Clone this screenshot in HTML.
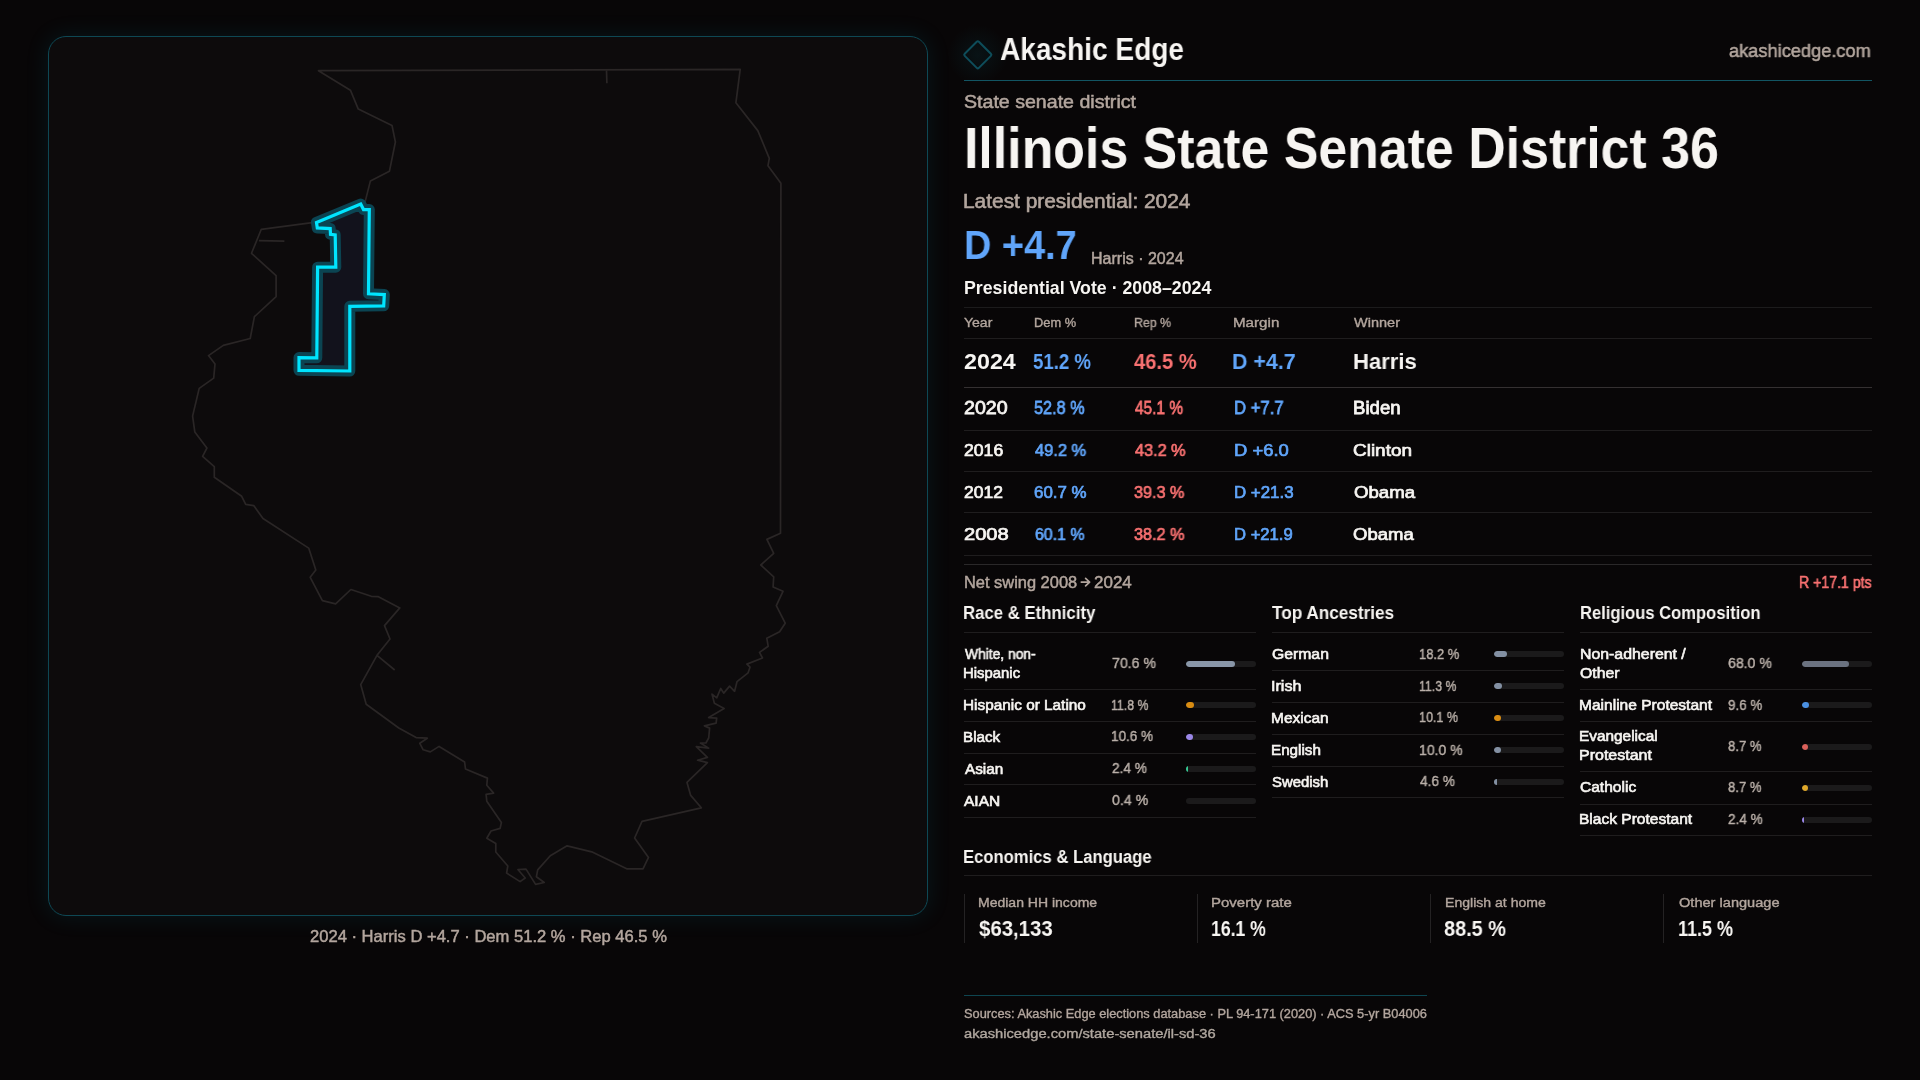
<!DOCTYPE html><html><head><meta charset="utf-8"><style>
html,body{margin:0;padding:0;}
body{width:1920px;height:1080px;overflow:hidden;position:relative;background:#080607;font-family:"Liberation Sans",sans-serif;}
.t{position:absolute;white-space:nowrap;transform-origin:0 0;will-change:transform;}
.a{position:absolute;}
</style></head><body>
<div class="a" style="left:48px;top:36px;width:880px;height:880px;box-sizing:border-box;border:1px solid #0e4854;border-radius:18px;background:#0d0b0c;box-shadow:0 0 22px 2px rgba(20,160,190,0.10);"></div>
<svg class="a" style="left:0;top:0" width="1920" height="1080" viewBox="0 0 1920 1080">
<path d="M318.5,70.7 L740.2,69.4 L735.9,102.8 L757.8,130.6 L769.3,158.3 L768.0,165.7 L780.9,183.3 L780.5,533.3 L766.9,539.4 L773.7,553.3 L760.8,565.0 L773.7,576.8 L773.1,587.0 L783.0,591.3 L776.3,605.6 L785.2,623.2 L779.6,631.7 L766.8,638.2 L768.2,646.3 L759.5,652.4 L762.5,658.0 L746.9,664.1 L750.0,667.2 L748.1,672.8 L737.0,681.7 L734.6,691.3 L729.6,686.1 L723.7,693.1 L720.7,688.5 L716.7,697.8 L712.0,694.1 L714.4,703.3 L724.1,708.5 L708.7,717.6 L716.7,718.1 L716.1,723.1 L704.4,725.9 L709.6,728.1 L708.7,738.0 L705.9,743.0 L700.4,743.0 L708.7,748.1 L696.3,746.7 L707.4,757.4 L697.6,760.2 L707.4,762.6 L687.0,782.4 L690.7,795.4 L701.3,807.8 L642.0,821.3 L634.6,838.0 L648.5,857.4 L643.0,868.9 L627.2,868.9 L591.7,851.8 L567.1,845.8 L550.3,855.7 L537.7,869.9 L536.4,876.7 L544.2,882.5 L535.6,884.4 L526.0,869.1 L517.9,869.5 L525.2,878.0 L520.1,881.6 L506.6,873.0 L507.8,866.0 L495.8,852.0 L495.8,843.6 L486.8,838.2 L491.0,831.0 L500.1,828.4 L501.4,822.5 L486.8,801.2 L486.1,794.3 L493.6,793.1 L486.8,785.3 L487.4,778.1 L465.5,769.0 L464.6,762.0 L439.1,746.4 L430.3,751.9 L423.2,749.8 L419.8,743.3 L427.3,738.2 L416.1,737.6 L398.8,728.0 L366.2,704.2 L360.7,684.6 L377.0,655.3 L390.0,639.0 L384.5,625.6 L399.8,607.9 L378.4,596.7 L371.3,596.3 L350.9,589.5 L335.6,603.8 L322.4,600.7 L310.2,577.3 L315.8,570.0 L308.7,548.1 L263.0,518.5 L253.7,505.6 L245.7,504.4 L241.7,496.3 L214.3,477.2 L214.3,466.7 L202.6,456.3 L206.9,448.1 L194.8,431.9 L192.6,416.1 L199.2,388.4 L213.7,378.1 L215.0,363.9 L208.5,355.6 L223.3,345.4 L250.2,338.5 L254.4,316.7 L276.1,296.7 L276.1,275.6 L251.5,253.3 L261.3,229.3 L312.2,222.6 L364.8,203.1 L370.4,180.9 L389.4,171.3 L395.4,142.0 L392.0,125.4 L358.3,109.1 L350.4,90.2 Z" fill="none" stroke="#2a2626" stroke-width="1.7" stroke-linejoin="round"/>
<path d="M606.5,70.4 L606.9,83.3 M258.9,240.7 L284.4,241.1 M377,655.3 L394.7,670" fill="none" stroke="#2a2626" stroke-width="1.7"/>
<path d="M360.7,204.1 L363.5,209.6 L369.3,209.6 L368.5,293.8 L384.3,294.6 L383.7,305.8 L349.8,306.3 L349.8,371.0 L299.0,370.3 L299.0,357.6 L316.8,357.8 L317.6,267.2 L335.8,267.2 L335.2,235.0 L330.5,234.3 L330.2,228.6 L317.3,227.9 L316.5,222.4 Z" fill="#12121c" stroke="#0b4452" stroke-width="11" stroke-linejoin="round"/>
<path d="M360.7,204.1 L363.5,209.6 L369.3,209.6 L368.5,293.8 L384.3,294.6 L383.7,305.8 L349.8,306.3 L349.8,371.0 L299.0,370.3 L299.0,357.6 L316.8,357.8 L317.6,267.2 L335.8,267.2 L335.2,235.0 L330.5,234.3 L330.2,228.6 L317.3,227.9 L316.5,222.4 Z" fill="none" stroke="#00e5ff" stroke-width="3.2" stroke-linejoin="miter"/>
<path d="M1081.3,582.1 L1089.4,582.1 M1085.6,578.3 L1089.6,582.1 L1085.6,585.9" fill="none" stroke="#b3a69e" stroke-width="1.7" stroke-linecap="round" stroke-linejoin="round"/>
<defs><radialGradient id="dg"><stop offset="0" stop-color="#0e6a7a" stop-opacity="0.13"/><stop offset="1" stop-color="#0e6a7a" stop-opacity="0"/></radialGradient></defs>
<circle cx="977.8" cy="54.8" r="30" fill="url(#dg)"/>
<rect x="967.8" y="44.8" width="20" height="20" rx="1.5" transform="rotate(45 977.8 54.8)" fill="none" stroke="#0e4d5a" stroke-width="2"/>
</svg>
<div class="a" style="left:964px;top:80px;width:908px;height:1px;background:#125563;"></div>
<div class="a" style="left:964px;top:306.5px;width:908px;height:1px;background:#1c1b1c;"></div>
<div class="a" style="left:964px;top:337.5px;width:908px;height:1px;background:#1f1d1e;"></div>
<div class="a" style="left:964px;top:386.5px;width:908px;height:1px;background:#343031;"></div>
<div class="a" style="left:964px;top:429.5px;width:908px;height:1px;background:#1f1d1e;"></div>
<div class="a" style="left:964px;top:471.0px;width:908px;height:1px;background:#1f1d1e;"></div>
<div class="a" style="left:964px;top:512.0px;width:908px;height:1px;background:#1f1d1e;"></div>
<div class="a" style="left:964px;top:555.0px;width:908px;height:1px;background:#1f1d1e;"></div>
<div class="a" style="left:964px;top:564.2px;width:908px;height:1px;background:#2a2829;"></div>
<div class="a" style="left:964.0px;top:632.3px;width:292.0px;height:1px;background:#1f1d1e;"></div>
<div class="a" style="left:964.0px;top:688.9px;width:292.0px;height:1px;background:#1f1d1e;"></div>
<div class="a" style="left:964.0px;top:720.8px;width:292.0px;height:1px;background:#1f1d1e;"></div>
<div class="a" style="left:964.0px;top:752.7px;width:292.0px;height:1px;background:#1f1d1e;"></div>
<div class="a" style="left:964.0px;top:784.4px;width:292.0px;height:1px;background:#1f1d1e;"></div>
<div class="a" style="left:964.0px;top:817.0px;width:292.0px;height:1px;background:#1f1d1e;"></div>
<div class="a" style="left:1271.8px;top:631.6px;width:292.0px;height:1px;background:#1f1d1e;"></div>
<div class="a" style="left:1271.8px;top:669.9px;width:292.0px;height:1px;background:#1f1d1e;"></div>
<div class="a" style="left:1271.8px;top:701.6px;width:292.0px;height:1px;background:#1f1d1e;"></div>
<div class="a" style="left:1271.8px;top:733.7px;width:292.0px;height:1px;background:#1f1d1e;"></div>
<div class="a" style="left:1271.8px;top:765.8px;width:292.0px;height:1px;background:#1f1d1e;"></div>
<div class="a" style="left:1271.8px;top:797.4px;width:292.0px;height:1px;background:#1f1d1e;"></div>
<div class="a" style="left:1579.9px;top:631.7px;width:292.0px;height:1px;background:#1f1d1e;"></div>
<div class="a" style="left:1579.9px;top:688.8px;width:292.0px;height:1px;background:#1f1d1e;"></div>
<div class="a" style="left:1579.9px;top:720.8px;width:292.0px;height:1px;background:#1f1d1e;"></div>
<div class="a" style="left:1579.9px;top:771.1px;width:292.0px;height:1px;background:#1f1d1e;"></div>
<div class="a" style="left:1579.9px;top:803.5px;width:292.0px;height:1px;background:#1f1d1e;"></div>
<div class="a" style="left:1579.9px;top:834.6px;width:292.0px;height:1px;background:#1f1d1e;"></div>
<div class="a" style="left:964.0px;top:874.8px;width:908.0px;height:1px;background:#1f1d1e;"></div>
<div class="a" style="left:964.0px;top:894.3px;width:1px;height:48.5px;background:#242223;"></div>
<div class="a" style="left:1197.0px;top:894.3px;width:1px;height:48.5px;background:#242223;"></div>
<div class="a" style="left:1430.0px;top:894.3px;width:1px;height:48.5px;background:#242223;"></div>
<div class="a" style="left:1663.0px;top:894.3px;width:1px;height:48.5px;background:#242223;"></div>
<div class="a" style="left:1186.0px;top:661.1px;width:70.0px;height:6px;border-radius:3px;background:#1b1a1b;overflow:hidden;"><div style="width:49.42px;height:6px;border-radius:3px;background:#8996a8;"></div></div>
<div class="a" style="left:1186.0px;top:702.3px;width:70.0px;height:6px;border-radius:3px;background:#1b1a1b;overflow:hidden;"><div style="width:8.26px;height:6px;border-radius:3px;background:#d98c12;"></div></div>
<div class="a" style="left:1186.0px;top:734.2px;width:70.0px;height:6px;border-radius:3px;background:#1b1a1b;overflow:hidden;"><div style="width:7.42px;height:6px;border-radius:3px;background:#9b87e8;"></div></div>
<div class="a" style="left:1186.0px;top:766.0px;width:70.0px;height:6px;border-radius:3px;background:#1b1a1b;overflow:hidden;"><div style="width:1.68px;height:6px;border-radius:0;background:#36c993;"></div></div>
<div class="a" style="left:1186.0px;top:798.2px;width:70.0px;height:6px;border-radius:3px;background:#1b1a1b;overflow:hidden;"><div style="width:0.28px;height:6px;border-radius:0;background:transparent;"></div></div>
<div class="a" style="left:1493.8px;top:651.2px;width:70.0px;height:6px;border-radius:3px;background:#1b1a1b;overflow:hidden;"><div style="width:12.74px;height:6px;border-radius:3px;background:#8390a3;"></div></div>
<div class="a" style="left:1493.8px;top:683.2px;width:70.0px;height:6px;border-radius:3px;background:#1b1a1b;overflow:hidden;"><div style="width:7.91px;height:6px;border-radius:3px;background:#8390a3;"></div></div>
<div class="a" style="left:1493.8px;top:715.2px;width:70.0px;height:6px;border-radius:3px;background:#1b1a1b;overflow:hidden;"><div style="width:7.07px;height:6px;border-radius:3px;background:#d98c12;"></div></div>
<div class="a" style="left:1493.8px;top:747.2px;width:70.0px;height:6px;border-radius:3px;background:#1b1a1b;overflow:hidden;"><div style="width:7.00px;height:6px;border-radius:3px;background:#8390a3;"></div></div>
<div class="a" style="left:1493.8px;top:779.1px;width:70.0px;height:6px;border-radius:3px;background:#1b1a1b;overflow:hidden;"><div style="width:3.22px;height:6px;border-radius:0;background:#8390a3;"></div></div>
<div class="a" style="left:1801.9px;top:660.8px;width:70.0px;height:6px;border-radius:3px;background:#1b1a1b;overflow:hidden;"><div style="width:47.60px;height:6px;border-radius:3px;background:#6b7280;"></div></div>
<div class="a" style="left:1801.9px;top:702.3px;width:70.0px;height:6px;border-radius:3px;background:#1b1a1b;overflow:hidden;"><div style="width:6.72px;height:6px;border-radius:3px;background:#4a90e2;"></div></div>
<div class="a" style="left:1801.9px;top:743.5px;width:70.0px;height:6px;border-radius:3px;background:#1b1a1b;overflow:hidden;"><div style="width:6.09px;height:6px;border-radius:3px;background:#d9605a;"></div></div>
<div class="a" style="left:1801.9px;top:784.8px;width:70.0px;height:6px;border-radius:3px;background:#1b1a1b;overflow:hidden;"><div style="width:6.09px;height:6px;border-radius:3px;background:#e0a82a;"></div></div>
<div class="a" style="left:1801.9px;top:816.5px;width:70.0px;height:6px;border-radius:3px;background:#1b1a1b;overflow:hidden;"><div style="width:1.68px;height:6px;border-radius:0;background:#9b87e8;"></div></div>
<div class="a" style="left:964px;top:995px;width:463px;height:1.2px;background:#0e4550;"></div>
<div class="t" id="t0" style="left:999.56px;top:33.65px;font-size:31.250px;line-height:31.250px;font-weight:700;color:#f7f5f2;transform:scaleX(0.8978);">Akashic Edge</div>
<div class="t" id="t1" style="left:1728.71px;top:41.59px;font-size:18.824px;line-height:18.824px;font-weight:400;color:#b3a69e;-webkit-text-stroke:0.55px #b3a69e;transform:scaleX(0.9684);">akashicedge.com</div>
<div class="t" id="t2" style="left:963.71px;top:94.45px;font-size:17.708px;line-height:17.708px;font-weight:400;color:#b3a69e;-webkit-text-stroke:0.52px #b3a69e;transform:scaleX(1.1071);">State senate district</div>
<div class="t" id="t3" style="left:964.22px;top:118.81px;font-size:57.994px;line-height:57.994px;font-weight:700;color:#f7f5f2;transform:scaleX(0.8941);">Illinois State Senate District 36</div>
<div class="t" id="t4" style="left:962.85px;top:192.15px;font-size:19.800px;line-height:19.800px;font-weight:400;color:#b3a69e;-webkit-text-stroke:0.58px #b3a69e;transform:scaleX(1.0552);">Latest presidential: 2024</div>
<div class="t" id="t5" style="left:963.88px;top:224.87px;font-size:40.552px;line-height:40.552px;font-weight:700;color:#60a5fa;transform:scaleX(0.9348);">D +4.7</div>
<div class="t" id="t6" style="left:1090.58px;top:251.25px;font-size:15.617px;line-height:15.617px;font-weight:400;color:#b3a69e;-webkit-text-stroke:0.46px #b3a69e;transform:scaleX(1.0258);">Harris · 2024</div>
<div class="t" id="t7" style="left:963.68px;top:280.19px;font-size:17.733px;line-height:17.733px;font-weight:700;color:#f7f5f2;transform:scaleX(1.0019);">Presidential Vote · 2008–2024</div>
<div class="t" id="t8" style="left:963.98px;top:316.65px;font-size:12.828px;line-height:12.828px;font-weight:400;color:#b3a69e;-webkit-text-stroke:0.37px #b3a69e;transform:scaleX(1.0948);">Year</div>
<div class="t" id="t9" style="left:1033.83px;top:316.65px;font-size:12.828px;line-height:12.828px;font-weight:400;color:#b3a69e;-webkit-text-stroke:0.37px #b3a69e;transform:scaleX(1.0010);">Dem %</div>
<div class="t" id="t10" style="left:1134.19px;top:316.65px;font-size:12.828px;line-height:12.828px;font-weight:400;color:#b3a69e;-webkit-text-stroke:0.37px #b3a69e;transform:scaleX(0.9647);">Rep %</div>
<div class="t" id="t11" style="left:1232.83px;top:316.65px;font-size:12.828px;line-height:12.828px;font-weight:400;color:#b3a69e;-webkit-text-stroke:0.37px #b3a69e;transform:scaleX(1.1826);">Margin</div>
<div class="t" id="t12" style="left:1354.41px;top:316.65px;font-size:12.828px;line-height:12.828px;font-weight:400;color:#b3a69e;-webkit-text-stroke:0.37px #b3a69e;transform:scaleX(1.1332);">Winner</div>
<div class="t" id="t13" style="left:963.55px;top:350.73px;font-size:22.529px;line-height:22.529px;font-weight:700;color:#f7f5f2;transform:scaleX(1.0342);">2024</div>
<div class="t" id="t14" style="left:1033.39px;top:350.73px;font-size:22.529px;line-height:22.529px;font-weight:700;color:#60a5fa;transform:scaleX(0.8275);">51.2 %</div>
<div class="t" id="t15" style="left:1133.80px;top:350.73px;font-size:22.529px;line-height:22.529px;font-weight:700;color:#f87171;transform:scaleX(0.8955);">46.5 %</div>
<div class="t" id="t16" style="left:1232.47px;top:350.73px;font-size:22.529px;line-height:22.529px;font-weight:700;color:#60a5fa;transform:scaleX(0.9500);">D +4.7</div>
<div class="t" id="t17" style="left:1352.62px;top:350.73px;font-size:22.529px;line-height:22.529px;font-weight:700;color:#f7f5f2;transform:scaleX(0.9805);">Harris</div>
<div class="t" id="t18" style="left:964.07px;top:399.00px;font-size:18.207px;line-height:18.207px;font-weight:400;color:#f7f5f2;-webkit-text-stroke:0.77px #f7f5f2;transform:scaleX(1.0807);">2020</div>
<div class="t" id="t19" style="left:1033.86px;top:399.00px;font-size:18.207px;line-height:18.207px;font-weight:400;color:#60a5fa;-webkit-text-stroke:0.77px #60a5fa;transform:scaleX(0.8939);">52.8 %</div>
<div class="t" id="t20" style="left:1134.65px;top:399.00px;font-size:18.207px;line-height:18.207px;font-weight:400;color:#f87171;-webkit-text-stroke:0.77px #f87171;transform:scaleX(0.8474);">45.1 %</div>
<div class="t" id="t21" style="left:1233.72px;top:399.00px;font-size:18.207px;line-height:18.207px;font-weight:400;color:#60a5fa;-webkit-text-stroke:0.77px #60a5fa;transform:scaleX(0.9171);">D +7.7</div>
<div class="t" id="t22" style="left:1352.95px;top:399.00px;font-size:18.207px;line-height:18.207px;font-weight:400;color:#f7f5f2;-webkit-text-stroke:0.77px #f7f5f2;transform:scaleX(1.0227);">Biden</div>
<div class="t" id="t23" style="left:964.19px;top:443.01px;font-size:16.702px;line-height:16.702px;font-weight:400;color:#f7f5f2;-webkit-text-stroke:0.71px #f7f5f2;transform:scaleX(1.0567);">2016</div>
<div class="t" id="t24" style="left:1034.78px;top:443.01px;font-size:16.702px;line-height:16.702px;font-weight:400;color:#60a5fa;-webkit-text-stroke:0.71px #60a5fa;transform:scaleX(0.9861);">49.2 %</div>
<div class="t" id="t25" style="left:1134.77px;top:443.01px;font-size:16.702px;line-height:16.702px;font-weight:400;color:#f87171;-webkit-text-stroke:0.71px #f87171;transform:scaleX(0.9749);">43.2 %</div>
<div class="t" id="t26" style="left:1233.62px;top:443.01px;font-size:16.702px;line-height:16.702px;font-weight:400;color:#60a5fa;-webkit-text-stroke:0.71px #60a5fa;transform:scaleX(1.1029);">D +6.0</div>
<div class="t" id="t27" style="left:1353.36px;top:443.01px;font-size:16.702px;line-height:16.702px;font-weight:400;color:#f7f5f2;-webkit-text-stroke:0.71px #f7f5f2;transform:scaleX(1.1357);">Clinton</div>
<div class="t" id="t28" style="left:964.15px;top:485.01px;font-size:16.702px;line-height:16.702px;font-weight:400;color:#f7f5f2;-webkit-text-stroke:0.71px #f7f5f2;transform:scaleX(1.0471);">2012</div>
<div class="t" id="t29" style="left:1033.80px;top:485.01px;font-size:16.702px;line-height:16.702px;font-weight:400;color:#60a5fa;-webkit-text-stroke:0.71px #60a5fa;transform:scaleX(1.0124);">60.7 %</div>
<div class="t" id="t30" style="left:1134.25px;top:485.01px;font-size:16.702px;line-height:16.702px;font-weight:400;color:#f87171;-webkit-text-stroke:0.71px #f87171;transform:scaleX(0.9709);">39.3 %</div>
<div class="t" id="t31" style="left:1233.59px;top:485.01px;font-size:16.702px;line-height:16.702px;font-weight:400;color:#60a5fa;-webkit-text-stroke:0.71px #60a5fa;transform:scaleX(1.0108);">D +21.3</div>
<div class="t" id="t32" style="left:1354.38px;top:485.01px;font-size:16.702px;line-height:16.702px;font-weight:400;color:#f7f5f2;-webkit-text-stroke:0.71px #f7f5f2;transform:scaleX(1.1169);">Obama</div>
<div class="t" id="t33" style="left:964.15px;top:526.25px;font-size:16.428px;line-height:16.428px;font-weight:400;color:#f7f5f2;-webkit-text-stroke:0.70px #f7f5f2;transform:scaleX(1.2245);">2008</div>
<div class="t" id="t34" style="left:1034.58px;top:526.25px;font-size:16.428px;line-height:16.428px;font-weight:400;color:#60a5fa;-webkit-text-stroke:0.70px #60a5fa;transform:scaleX(0.9691);">60.1 %</div>
<div class="t" id="t35" style="left:1134.38px;top:526.25px;font-size:16.428px;line-height:16.428px;font-weight:400;color:#f87171;-webkit-text-stroke:0.70px #f87171;transform:scaleX(0.9881);">38.2 %</div>
<div class="t" id="t36" style="left:1233.70px;top:526.25px;font-size:16.428px;line-height:16.428px;font-weight:400;color:#60a5fa;-webkit-text-stroke:0.70px #60a5fa;transform:scaleX(1.0136);">D +21.9</div>
<div class="t" id="t37" style="left:1353.43px;top:526.25px;font-size:16.428px;line-height:16.428px;font-weight:400;color:#f7f5f2;-webkit-text-stroke:0.70px #f7f5f2;transform:scaleX(1.1289);">Obama</div>
<div class="t" id="t38" style="left:963.95px;top:573.93px;font-size:16.105px;line-height:16.105px;font-weight:400;color:#b3a69e;-webkit-text-stroke:0.47px #b3a69e;transform:scaleX(1.0198);">Net swing 2008</div>
<div class="t" id="t39" style="left:1094.08px;top:573.93px;font-size:16.105px;line-height:16.105px;font-weight:400;color:#b3a69e;-webkit-text-stroke:0.47px #b3a69e;transform:scaleX(1.0548);">2024</div>
<div class="t" id="t40" style="left:1798.79px;top:574.90px;font-size:16.017px;line-height:16.017px;font-weight:400;color:#f87171;-webkit-text-stroke:0.68px #f87171;transform:scaleX(0.8827);">R +17.1 pts</div>
<div class="t" id="t41" style="left:963.10px;top:604.14px;font-size:18.023px;line-height:18.023px;font-weight:700;color:#f7f5f2;transform:scaleX(0.9307);">Race &amp; Ethnicity</div>
<div class="t" id="t42" style="left:1272.22px;top:604.14px;font-size:18.023px;line-height:18.023px;font-weight:700;color:#f7f5f2;transform:scaleX(0.9538);">Top Ancestries</div>
<div class="t" id="t43" style="left:1579.72px;top:604.14px;font-size:18.023px;line-height:18.023px;font-weight:700;color:#f7f5f2;transform:scaleX(0.9200);">Religious Composition</div>
<div class="t" id="t44" style="left:964.68px;top:646.75px;font-size:14.237px;line-height:14.237px;font-weight:400;color:#f7f5f2;-webkit-text-stroke:0.60px #f7f5f2;transform:scaleX(0.9712);">White, non-</div>
<div class="t" id="t45" style="left:963.35px;top:665.75px;font-size:14.237px;line-height:14.237px;font-weight:400;color:#f7f5f2;-webkit-text-stroke:0.60px #f7f5f2;transform:scaleX(1.0466);">Hispanic</div>
<div class="t" id="t46" style="left:1112.03px;top:655.74px;font-size:14.641px;line-height:14.641px;font-weight:400;color:#bab0a9;-webkit-text-stroke:0.43px #bab0a9;transform:scaleX(0.9665);">70.6 %</div>
<div class="t" id="t47" style="left:963.06px;top:698.47px;font-size:14.237px;line-height:14.237px;font-weight:400;color:#f7f5f2;-webkit-text-stroke:0.60px #f7f5f2;transform:scaleX(1.0795);">Hispanic or Latino</div>
<div class="t" id="t48" style="left:1111.36px;top:697.97px;font-size:14.641px;line-height:14.641px;font-weight:400;color:#bab0a9;-webkit-text-stroke:0.43px #bab0a9;transform:scaleX(0.8418);">11.8 %</div>
<div class="t" id="t49" style="left:963.36px;top:730.37px;font-size:14.237px;line-height:14.237px;font-weight:400;color:#f7f5f2;-webkit-text-stroke:0.60px #f7f5f2;transform:scaleX(1.0695);">Black</div>
<div class="t" id="t50" style="left:1110.66px;top:728.87px;font-size:14.641px;line-height:14.641px;font-weight:400;color:#bab0a9;-webkit-text-stroke:0.43px #bab0a9;transform:scaleX(0.9236);">10.6 %</div>
<div class="t" id="t51" style="left:964.90px;top:762.20px;font-size:14.237px;line-height:14.237px;font-weight:400;color:#f7f5f2;-webkit-text-stroke:0.60px #f7f5f2;transform:scaleX(1.0742);">Asian</div>
<div class="t" id="t52" style="left:1111.77px;top:760.69px;font-size:14.641px;line-height:14.641px;font-weight:400;color:#bab0a9;-webkit-text-stroke:0.43px #bab0a9;transform:scaleX(0.9303);">2.4 %</div>
<div class="t" id="t53" style="left:964.09px;top:794.35px;font-size:14.237px;line-height:14.237px;font-weight:400;color:#f7f5f2;-webkit-text-stroke:0.60px #f7f5f2;transform:scaleX(1.0894);">AIAN</div>
<div class="t" id="t54" style="left:1111.90px;top:792.84px;font-size:14.641px;line-height:14.641px;font-weight:400;color:#bab0a9;-webkit-text-stroke:0.43px #bab0a9;transform:scaleX(0.9669);">0.4 %</div>
<div class="t" id="t55" style="left:1272.35px;top:647.40px;font-size:14.237px;line-height:14.237px;font-weight:400;color:#f7f5f2;-webkit-text-stroke:0.60px #f7f5f2;transform:scaleX(1.1076);">German</div>
<div class="t" id="t56" style="left:1419.36px;top:646.89px;font-size:14.641px;line-height:14.641px;font-weight:400;color:#bab0a9;-webkit-text-stroke:0.43px #bab0a9;transform:scaleX(0.8851);">18.2 %</div>
<div class="t" id="t57" style="left:1271.42px;top:679.40px;font-size:14.237px;line-height:14.237px;font-weight:400;color:#f7f5f2;-webkit-text-stroke:0.60px #f7f5f2;transform:scaleX(1.1322);">Irish</div>
<div class="t" id="t58" style="left:1419.03px;top:678.89px;font-size:14.641px;line-height:14.641px;font-weight:400;color:#bab0a9;-webkit-text-stroke:0.43px #bab0a9;transform:scaleX(0.8419);">11.3 %</div>
<div class="t" id="t59" style="left:1270.93px;top:711.30px;font-size:14.237px;line-height:14.237px;font-weight:400;color:#f7f5f2;-webkit-text-stroke:0.60px #f7f5f2;transform:scaleX(1.0892);">Mexican</div>
<div class="t" id="t60" style="left:1418.92px;top:709.79px;font-size:14.641px;line-height:14.641px;font-weight:400;color:#bab0a9;-webkit-text-stroke:0.43px #bab0a9;transform:scaleX(0.8574);">10.1 %</div>
<div class="t" id="t61" style="left:1270.97px;top:743.40px;font-size:14.237px;line-height:14.237px;font-weight:400;color:#f7f5f2;-webkit-text-stroke:0.60px #f7f5f2;transform:scaleX(1.0697);">English</div>
<div class="t" id="t62" style="left:1419.34px;top:742.89px;font-size:14.641px;line-height:14.641px;font-weight:400;color:#bab0a9;-webkit-text-stroke:0.43px #bab0a9;transform:scaleX(0.9595);">10.0 %</div>
<div class="t" id="t63" style="left:1271.87px;top:775.25px;font-size:14.237px;line-height:14.237px;font-weight:400;color:#f7f5f2;-webkit-text-stroke:0.60px #f7f5f2;transform:scaleX(1.0487);">Swedish</div>
<div class="t" id="t64" style="left:1420.10px;top:773.74px;font-size:14.641px;line-height:14.641px;font-weight:400;color:#bab0a9;-webkit-text-stroke:0.43px #bab0a9;transform:scaleX(0.9308);">4.6 %</div>
<div class="t" id="t65" style="left:1579.86px;top:647.40px;font-size:14.237px;line-height:14.237px;font-weight:400;color:#f7f5f2;-webkit-text-stroke:0.60px #f7f5f2;transform:scaleX(1.1151);">Non-adherent /</div>
<div class="t" id="t66" style="left:1580.16px;top:666.40px;font-size:14.237px;line-height:14.237px;font-weight:400;color:#f7f5f2;-webkit-text-stroke:0.60px #f7f5f2;transform:scaleX(1.1116);">Other</div>
<div class="t" id="t67" style="left:1727.71px;top:656.39px;font-size:14.641px;line-height:14.641px;font-weight:400;color:#bab0a9;-webkit-text-stroke:0.43px #bab0a9;transform:scaleX(0.9639);">68.0 %</div>
<div class="t" id="t68" style="left:1579.10px;top:698.45px;font-size:14.237px;line-height:14.237px;font-weight:400;color:#f7f5f2;-webkit-text-stroke:0.60px #f7f5f2;transform:scaleX(1.0931);">Mainline Protestant</div>
<div class="t" id="t69" style="left:1728.20px;top:697.94px;font-size:14.641px;line-height:14.641px;font-weight:400;color:#bab0a9;-webkit-text-stroke:0.43px #bab0a9;transform:scaleX(0.9129);">9.6 %</div>
<div class="t" id="t70" style="left:1578.98px;top:729.10px;font-size:14.237px;line-height:14.237px;font-weight:400;color:#f7f5f2;-webkit-text-stroke:0.60px #f7f5f2;transform:scaleX(1.0819);">Evangelical</div>
<div class="t" id="t71" style="left:1579.22px;top:748.10px;font-size:14.237px;line-height:14.237px;font-weight:400;color:#f7f5f2;-webkit-text-stroke:0.60px #f7f5f2;transform:scaleX(1.1249);">Protestant</div>
<div class="t" id="t72" style="left:1728.23px;top:739.09px;font-size:14.641px;line-height:14.641px;font-weight:400;color:#bab0a9;-webkit-text-stroke:0.43px #bab0a9;transform:scaleX(0.8952);">8.7 %</div>
<div class="t" id="t73" style="left:1579.84px;top:779.95px;font-size:14.237px;line-height:14.237px;font-weight:400;color:#f7f5f2;-webkit-text-stroke:0.60px #f7f5f2;transform:scaleX(1.0933);">Catholic</div>
<div class="t" id="t74" style="left:1727.57px;top:780.44px;font-size:14.641px;line-height:14.641px;font-weight:400;color:#bab0a9;-webkit-text-stroke:0.43px #bab0a9;transform:scaleX(0.8940);">8.7 %</div>
<div class="t" id="t75" style="left:1579.23px;top:811.70px;font-size:14.237px;line-height:14.237px;font-weight:400;color:#f7f5f2;-webkit-text-stroke:0.60px #f7f5f2;transform:scaleX(1.0928);">Black Protestant</div>
<div class="t" id="t76" style="left:1727.83px;top:812.19px;font-size:14.641px;line-height:14.641px;font-weight:400;color:#bab0a9;-webkit-text-stroke:0.43px #bab0a9;transform:scaleX(0.9253);">2.4 %</div>
<div class="t" id="t77" style="left:963.42px;top:847.97px;font-size:18.459px;line-height:18.459px;font-weight:700;color:#f7f5f2;transform:scaleX(0.9022);">Economics &amp; Language</div>
<div class="t" id="t78" style="left:978.34px;top:896.33px;font-size:13.664px;line-height:13.664px;font-weight:400;color:#b3a69e;-webkit-text-stroke:0.40px #b3a69e;transform:scaleX(1.0259);">Median HH income</div>
<div class="t" id="t79" style="left:979.00px;top:918.05px;font-size:22.384px;line-height:22.384px;font-weight:700;color:#f7f5f2;transform:scaleX(0.9104);">$63,133</div>
<div class="t" id="t80" style="left:1211.31px;top:896.33px;font-size:13.664px;line-height:13.664px;font-weight:400;color:#b3a69e;-webkit-text-stroke:0.40px #b3a69e;transform:scaleX(1.0968);">Poverty rate</div>
<div class="t" id="t81" style="left:1211.08px;top:918.05px;font-size:22.384px;line-height:22.384px;font-weight:700;color:#f7f5f2;transform:scaleX(0.7870);">16.1 %</div>
<div class="t" id="t82" style="left:1444.77px;top:896.33px;font-size:13.664px;line-height:13.664px;font-weight:400;color:#b3a69e;-webkit-text-stroke:0.40px #b3a69e;transform:scaleX(1.0299);">English at home</div>
<div class="t" id="t83" style="left:1444.46px;top:918.05px;font-size:22.384px;line-height:22.384px;font-weight:700;color:#f7f5f2;transform:scaleX(0.8892);">88.5 %</div>
<div class="t" id="t84" style="left:1678.72px;top:896.33px;font-size:13.664px;line-height:13.664px;font-weight:400;color:#b3a69e;-webkit-text-stroke:0.40px #b3a69e;transform:scaleX(1.0680);">Other language</div>
<div class="t" id="t85" style="left:1677.64px;top:918.05px;font-size:22.384px;line-height:22.384px;font-weight:700;color:#f7f5f2;transform:scaleX(0.8032);">11.5 %</div>
<div class="t" id="t86" style="left:963.85px;top:1007.65px;font-size:12.131px;line-height:12.131px;font-weight:400;color:#b3a69e;-webkit-text-stroke:0.35px #b3a69e;transform:scaleX(1.0560);">Sources: Akashic Edge elections database · PL 94-171 (2020) · ACS 5-yr B04006</div>
<div class="t" id="t87" style="left:964.45px;top:1028.05px;font-size:12.828px;line-height:12.828px;font-weight:400;color:#b0a79f;-webkit-text-stroke:0.37px #b0a79f;transform:scaleX(1.1475);">akashicedge.com/state-senate/il-sd-36</div>
<div class="t" id="t88" style="left:309.57px;top:928.63px;font-size:15.756px;line-height:15.756px;font-weight:400;color:#b3a69e;-webkit-text-stroke:0.46px #b3a69e;transform:scaleX(1.0521);">2024 · Harris D +4.7 · Dem 51.2 % · Rep 46.5 %</div>
</body></html>
